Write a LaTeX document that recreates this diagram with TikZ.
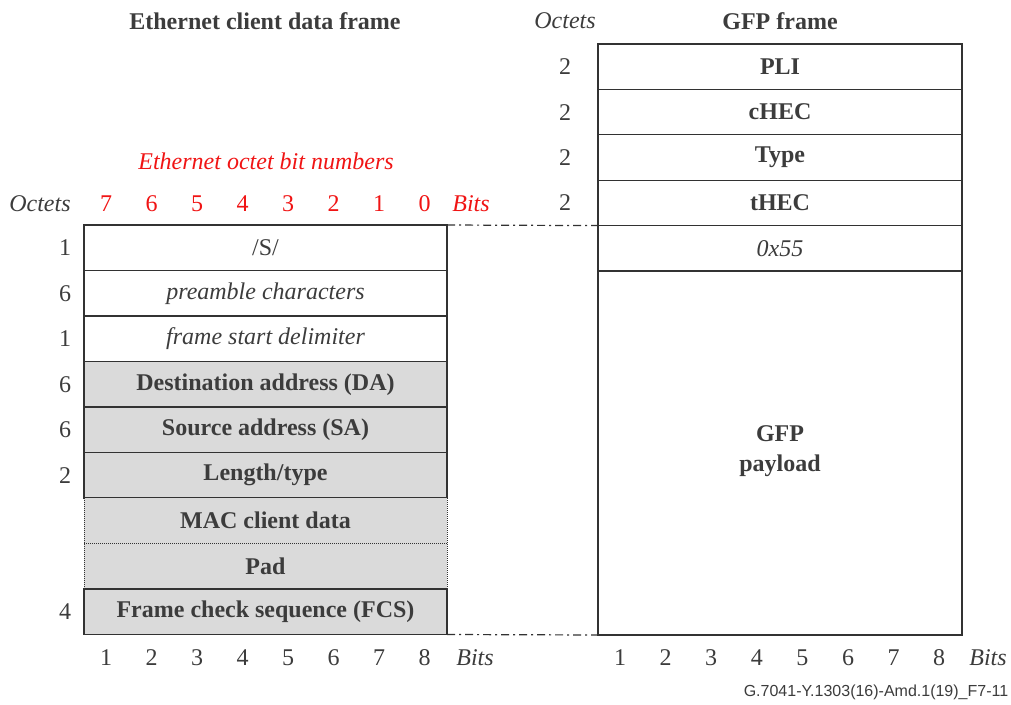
\documentclass[tikz,border=0pt]{standalone}
\usepackage{fontspec}
\setmainfont{Liberation Serif}
\newfontfamily\arialfont{Liberation Sans}
\definecolor{txt}{RGB}{60,60,60}
\definecolor{ln}{RGB}{50,50,50}
\definecolor{shade}{RGB}{218,218,218}
\definecolor{myred}{RGB}{240,20,20}
\newcommand{\fsz}{\fontsize{24}{26}\selectfont}
\begin{document}
\begin{tikzpicture}[x=1pt,y=-1pt,
  every node/.style={text=txt,font=\fsz},
  fld/.style={draw=ln,line width=1.2pt,minimum width=363pt,minimum height=45.5pt,inner sep=0pt,outer sep=0pt,anchor=north west},
  gfld/.style={fld,fill=shade},
  ffld/.style={fill=shade,minimum width=363pt,minimum height=45.5pt,inner sep=0pt,outer sep=0pt,anchor=north west},
  rfld/.style={draw=ln,line width=1.2pt,minimum width=364pt,minimum height=45.4pt,inner sep=0pt,outer sep=0pt,anchor=north west},
  lbl/.style={anchor=center,inner sep=0pt},
  redlbl/.style={lbl,text=myred},
  link/.style={draw=ln,line width=1.2pt,dash pattern=on 8pt off 4pt on 2pt off 4pt}
]
\useasboundingbox (0,0) rectangle (1011,704);
% titles
\node[lbl,font=\fsz\bfseries] (t1) at (265,21) {Ethernet client data frame};
\node[lbl,font=\fsz\itshape] (t2) at (565,21) {Octets};
\node[lbl,font=\fsz\bfseries] (t3) at (780,21) {GFP frame};
\node[redlbl,font=\fsz\itshape] (eobn) at (266,161) {Ethernet octet bit numbers};
% header row
\node[lbl,font=\fsz\itshape] (hoct) at (40,204) {Octets};
\foreach \b [count=\i from 0] in {7,6,5,4,3,2,1,0} {
  \node[redlbl] (rb\b) at (106+45.5*\i,204) {\b};
}
\node[redlbl,font=\fsz\itshape] (hbits) at (471,204) {Bits};
% left boxes
\node[fld] (S) at (84,225) {/S/};
\node[fld,font=\fsz\itshape] (pre) at (84,270.5) {preamble characters};
\node[fld,font=\fsz\itshape] (fsd) at (84,316) {frame start delimiter};
\node[gfld,font=\fsz\bfseries] (DA) at (84,361.5) {Destination address (DA)};
\node[gfld,font=\fsz\bfseries] (SA) at (84,407) {Source address (SA)};
\node[gfld,font=\fsz\bfseries] (LT) at (84,452.5) {Length/type};
\node[ffld,font=\fsz\bfseries] (MAC) at (84,498) {MAC client data};
\node[ffld,font=\fsz\bfseries] (PAD) at (84,543.5) {Pad};
\node[gfld,font=\fsz\bfseries] (FCS) at (84,589) {Frame check sequence (FCS)};
\draw[ln,line width=1pt,densely dotted] (LT.south west) -- (FCS.north west);
\draw[ln,line width=1pt,densely dotted] (LT.south east) -- (FCS.north east);
\draw[ln,line width=1pt,densely dotted] (MAC.south west) -- (MAC.south east);
% left octet counts
\foreach \n/\v in {S/1,pre/6,fsd/1,DA/6,SA/6,LT/2,FCS/4} {
  \node[lbl] (oc\n) at ([xshift=-19pt]\n.west) {\v};
}
% bottom bits left
\foreach \i in {1,...,8} {
  \node[lbl] (lb\i) at (106+45.5*\i-45.5,658) {\i};
}
\node[lbl,font=\fsz\itshape] (lbits) at (475,658) {Bits};
% right boxes
\node[rfld,font=\fsz\bfseries] (PLI) at (598,44) {PLI};
\node[rfld,font=\fsz\bfseries] (cHEC) at (598,89.4) {cHEC};
\node[rfld,font=\fsz\bfseries] (Type) at (598,134.8) {Type};
\node[rfld,font=\fsz\bfseries] (tHEC) at (598,180.2) {tHEC};
\node[rfld,font=\fsz\itshape] (x55) at (598,225.6) {0x55};
\node[draw=ln,line width=1.2pt,minimum width=364pt,minimum height=364pt,inner sep=0pt,outer sep=0pt,anchor=north west] (pay) at (598,271) {};
\node[lbl,font=\fontsize{24}{30}\selectfont\bfseries,align=center] (paytxt) at (780,451) {GFP\\payload};
\foreach \n in {PLI,cHEC,Type,tHEC} {
  \node[lbl] (oc\n) at ([xshift=-33pt]\n.west) {2};
}
% bottom bits right
\foreach \i in {1,...,8} {
  \node[lbl] (rbb\i) at (620+45.6*\i-45.6,658) {\i};
}
\node[lbl,font=\fsz\itshape] (rbits) at (988,658) {Bits};
% links
\draw[link] (S.north east) -- (x55.north west);
\draw[link] (FCS.south east) -- (pay.south west);
% footer
\node[lbl,font=\arialfont\fontsize{16}{18}\selectfont] (foot) at (876,692) {G.7041-Y.1303(16)-Amd.1(19)\_F7-11};
\end{tikzpicture}
\end{document}
